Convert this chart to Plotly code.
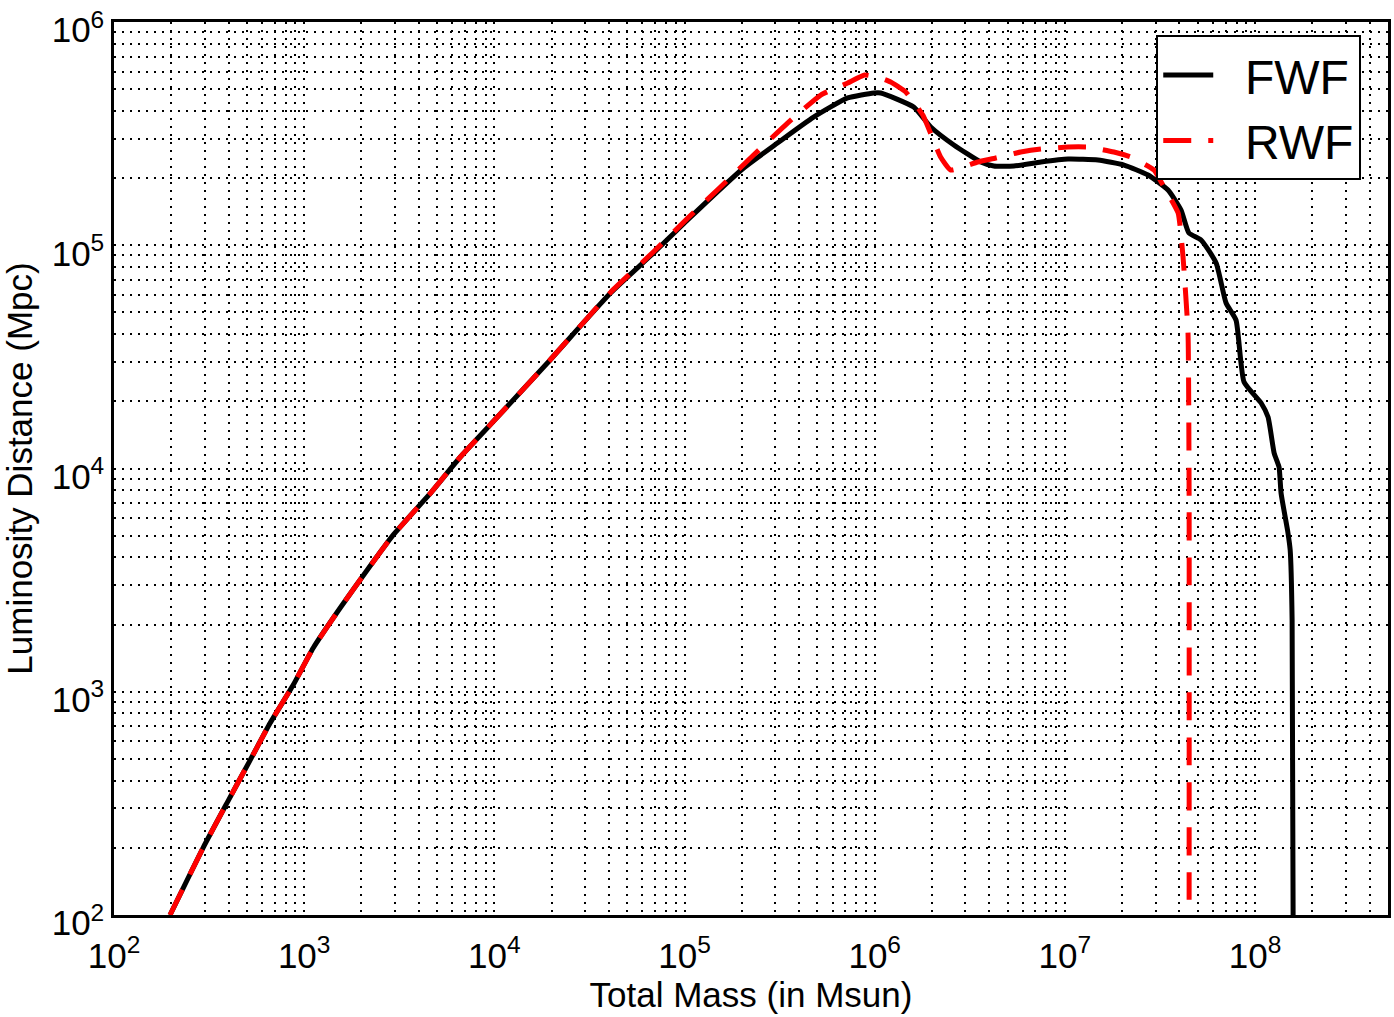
import plotly.graph_objects as go

# total mass (Msun) and luminosity distance (Mpc)
fwf_mass = [197, 294, 393, 520, 662, 875, 1115, 1545, 2145, 2940, 4700, 6620,
            10380, 19000, 40800, 68700, 103700, 204600, 308000, 477000, 721000,
            989000, 1.076e6, 1.603e6, 1.971e6, 2.606e6, 3.61e6, 4.23e6, 5.39e6,
            7.48e6, 1.038e7, 1.493e7, 2.046e7, 2.735e7, 3.486e7, 4.08e7,
            4.49e7, 5.2e7, 6.24e7, 7.04e7, 7.94e7, 8.75e7, 1.076e8, 1.17e8,
            1.26e8, 1.337e8, 1.37e8, 1.49e8, 1.53e8, 1.566e8, 1.585e8]
fwf_dist = [100, 200, 318, 494, 724, 1071, 1570, 2371, 3510, 5040, 7900, 11260,
            17000, 29700, 61100, 92300, 129800, 221800, 287000, 375000, 457000,
            481000, 481000, 416000, 338600, 281300, 236000, 226400, 226400,
            236000, 243400, 241000, 228800, 206400, 176800, 143800,
            113500, 105600, 83300, 55100, 46200, 24400, 19650, 17000,
            11730, 10150, 7760, 5140, 4310, 2096, 100]

rwf_mass = [197, 294, 393, 520, 662, 875, 1115, 1545, 2145, 2940, 4700, 6620,
            10380, 19000, 40800, 68700, 103700, 154500, 230700, 348000, 520000,
            721000, 885000, 1.076e6, 1.213e6, 1.456e6, 1.79e6, 2.22e6, 2.51e6,
            3.48e6, 4.33e6, 5.86e6, 7.48e6, 1.038e7, 1.32e7, 1.81e7, 2.22e7,
            2.94e7, 3.32e7, 3.94e7, 4.18e7, 4.44e7, 4.5e7, 4.5e7]
rwf_dist = [100, 200, 318, 494, 724, 1071, 1570, 2371, 3510, 5040, 7900, 11260,
            17000, 29700, 61500, 93500, 132000, 182400, 253600, 352700, 471000,
            533000, 579000, 561000, 538600, 486000, 383000, 248500, 217300,
            236000, 246000, 261600, 270000, 275400, 275400, 261600, 248500,
            217300, 182400, 139500, 88600, 40450, 7230, 117]

x_tickvals = [1e2, 1e3, 1e4, 1e5, 1e6, 1e7, 1e8]
x_ticktext = ['10<sup>2</sup>', '10<sup>3</sup>', '10<sup>4</sup>', '10<sup>5</sup>',
              '10<sup>6</sup>', '10<sup>7</sup>', '10<sup>8</sup>']
y_tickvals = [1e2, 1e3, 1e4, 1e5, 1e6]
y_ticktext = ['10<sup>2</sup>', '10<sup>3</sup>', '10<sup>4</sup>', '10<sup>5</sup>',
              '10<sup>6</sup>']

font_name = 'Liberation Sans'
pad = '\u00a0\u00a0'

fig = go.Figure()

fig.add_trace(
    go.Scatter(
        x=fwf_mass,
        y=fwf_dist,
        mode='lines',
        name=pad + 'FWF',
        line={'color': 'black', 'width': 5, 'shape': 'spline', 'smoothing': 0.5}
    )
)
fig.add_trace(
    go.Scatter(
        x=rwf_mass,
        y=rwf_dist,
        mode='lines',
        name=pad + 'RWF',
        line={'color': '#ff0000', 'width': 5, 'dash': '28px,17px',
              'shape': 'spline', 'smoothing': 0.4}
    )
)

grid_style = {
    'showgrid': True,
    'gridcolor': 'black',
    'gridwidth': 1.7,
    'griddash': '2px,6px',
}
minor_style = {
    'dtick': 'D1',
    'showgrid': True,
    'gridcolor': 'black',
    'gridwidth': 1.7,
    'griddash': '2px,6px',
}

layout = {
    'width': 1394,
    'height': 1017,
    'margin': {'l': 114, 'r': 6, 't': 22, 'b': 102, 'autoexpand': False},
    'paper_bgcolor': 'white',
    'plot_bgcolor': 'white',
    'font': {'family': font_name, 'color': 'black'},
    'showlegend': True,
    'xaxis': {
        'type': 'log',
        'range': [1.9999, 8.699],
        'tickmode': 'array',
        'tickvals': x_tickvals,
        'ticktext': x_ticktext,
        'tickfont': {'size': 35},
        'ticklabeloverflow': 'allow',
        'ticklabelstandoff': 8,
        'automargin': False,
        'ticks': '',
        'showline': True,
        'linecolor': 'black',
        'linewidth': 2.5,
        'mirror': True,
        'zeroline': False,
        'title': {'text': 'Total Mass (in Msun)', 'font': {'size': 35}, 'standoff': 8},
        'minor': minor_style,
        **grid_style,
    },
    'yaxis': {
        'type': 'log',
        'range': [1.9999, 6.0001],
        'tickmode': 'array',
        'tickvals': y_tickvals,
        'ticktext': y_ticktext,
        'tickfont': {'size': 35},
        'ticklabeloverflow': 'allow',
        'ticklabelshift': 8,
        'automargin': False,
        'ticks': '',
        'showline': True,
        'linecolor': 'black',
        'linewidth': 2.5,
        'mirror': True,
        'zeroline': False,
        'title': {'text': 'Luminosity Distance (Mpc)', 'font': {'size': 35}, 'standoff': 10},
        'minor': minor_style,
        **grid_style,
    },
    'legend': {
        'x': 0.979,
        'y': 0.985,
        'xanchor': 'right',
        'yanchor': 'top',
        'bgcolor': 'white',
        'bordercolor': 'black',
        'borderwidth': 2,
        'font': {'size': 48, 'family': font_name},
        'itemwidth': 50,
    },
}

fig.update_layout(layout)

fig.write_html('out.html', config={'displayModeBar': False},
               post_script="document.body.style.margin = '0';")
